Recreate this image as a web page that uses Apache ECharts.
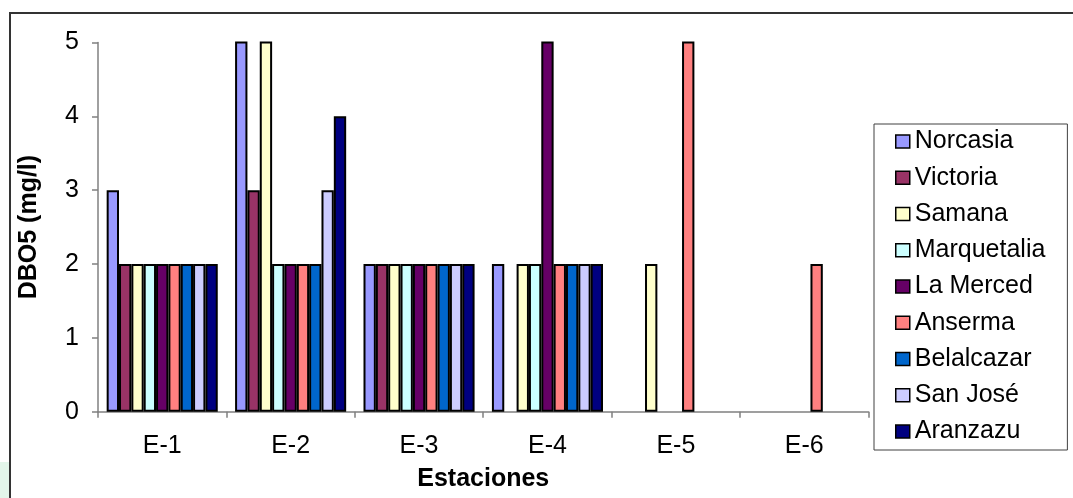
<!DOCTYPE html>
<html>
<head>
<meta charset="utf-8">
<script src="https://cdn.jsdelivr.net/npm/echarts@6/dist/echarts.min.js"></script>
<style>
html,body{margin:0;padding:0;background:#fff;}
#chart{width:1073px;height:498px;}
</style>
</head>
<body>
<div id="chart"></div>
<script>
// Data (values above 5 are clipped at the top of the axis)
var categories = ['E-1', 'E-2', 'E-3', 'E-4', 'E-5', 'E-6'];
var seriesNames = ['Norcasia', 'Victoria', 'Samana', 'Marquetalia', 'La Merced', 'Anserma', 'Belalcazar', 'San José', 'Aranzazu'];
var norcasia    = [3, 6, 2, 2, null, null];
var victoria    = [2, 3, 2, null, null, null];
var samana      = [2, 6, 2, 2, 2, null];
var marquetalia = [2, 2, 2, 2, null, null];
var laMerced    = [2, 2, 2, 6, null, null];
var anserma     = [2, 2, 2, 2, 6, 2];
var belalcazar  = [2, 2, 2, 2, null, null];
var sanJose     = [2, 3, 2, 2, null, null];
var aranzazu    = [2, 4, 2, 2, null, null];
var yTicks = [0, 1, 2, 3, 4, 5];

var colors = ['#9999FF', '#993366', '#FFFFCC', '#CCFFFF', '#660066', '#FF8080', '#0066CC', '#CCCCFF', '#000080'];
var values = [norcasia, victoria, samana, marquetalia, laMerced, anserma, belalcazar, sanJose, aranzazu];

var FONT = '"Liberation Sans", Arial, sans-serif';

var series = seriesNames.map(function (name, i) {
  return {
    name: name,
    type: 'bar',
    data: values[i],
    barGap: '0%',
    barCategoryGap: '13.5%',
    clip: true,
    itemStyle: { color: colors[i], borderColor: '#000', borderWidth: 2 },
    emphasis: { disabled: true }
  };
});

var chart = echarts.init(document.getElementById('chart'), null, { renderer: 'canvas' });
chart.setOption({
  animation: false,
  color: colors,
  textStyle: { fontFamily: FONT },
  graphic: [
    {
      type: 'rect',
      shape: { x: 10, y: 13, width: 1200, height: 700 },
      style: { fill: 'none', stroke: '#333', lineWidth: 2 },
      silent: true, z: -1
    },
    {
      type: 'rect',
      shape: { x: 0, y: 462, width: 9, height: 36 },
      style: { fill: '#e3f6ea' },
      silent: true, z: -1
    }
  ],
  grid: { left: 98, right: 204.5, top: 42.5, bottom: 86.3, containLabel: false, outerBoundsMode: 'none' },
  legend: {
    orient: 'vertical',
    left: 874,
    top: 124,
    backgroundColor: '#fff',
    borderColor: '#404040',
    borderWidth: 1,
    borderRadius: 0,
    padding: [5, 22, 6, 21],
    itemWidth: 14,
    itemHeight: 13,
    itemGap: 11.25,
    itemTextGap: 10,
    icon: 'rect',
    selectedMode: false,
    data: seriesNames,
    itemStyle: { borderColor: '#000', borderWidth: 1.5 },
    textStyle: { fontFamily: FONT, fontSize: 25, color: '#000', lineHeight: 25 }
  },
  xAxis: {
    type: 'category',
    data: categories,
    name: 'Estaciones',
    nameLocation: 'middle',
    nameGap: 55,
    nameTextStyle: { fontFamily: FONT, fontSize: 25, fontWeight: 'bold', color: '#000' },
    axisLine: { show: true, lineStyle: { color: '#808080', width: 1.5 } },
    axisTick: { show: true, length: 6, lineStyle: { color: '#808080', width: 1.5 } },
    axisLabel: { fontFamily: FONT, fontSize: 25, color: '#000', margin: 22 },
    splitLine: { show: false }
  },
  yAxis: {
    type: 'value',
    min: 0,
    max: 5,
    interval: 1,
    name: 'DBO5 (mg/l)',
    nameLocation: 'middle',
    nameGap: 56,
    nameRotate: 90,
    nameTextStyle: { fontFamily: FONT, fontSize: 25, fontWeight: 'bold', color: '#000' },
    axisLine: { show: true, lineStyle: { color: '#808080', width: 1.5 } },
    axisTick: { show: true, length: 6, lineStyle: { color: '#808080', width: 1.5 } },
    axisLabel: {
      fontFamily: FONT, fontSize: 25, color: '#000', margin: 19,
      formatter: function (v) { return yTicks.indexOf(v) >= 0 ? String(v) : ''; }
    },
    splitLine: { show: false }
  },
  series: series
});
</script>
</body>
</html>
